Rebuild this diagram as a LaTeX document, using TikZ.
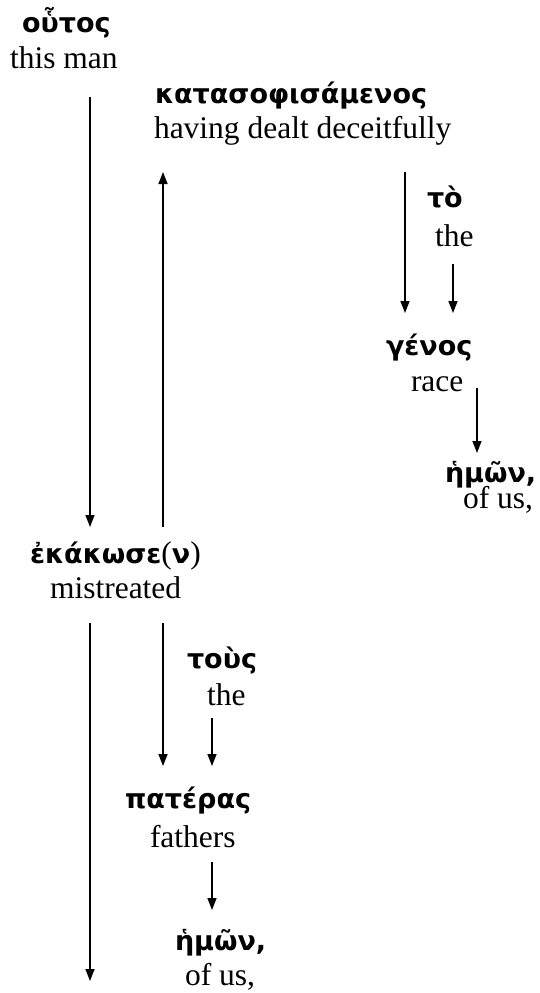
\documentclass[tikz,border=0pt]{standalone}
\usepackage{fontspec}
\setmainfont{Liberation Serif}
\newfontfamily\grk{DejaVu Sans}[Script=Greek]
\usetikzlibrary{arrows.meta}
\tikzset{
  en/.style={anchor=base west, inner sep=0pt, outer sep=0pt, font=\fontsize{31.5}{36}\selectfont},
  gr/.style={anchor=base west, inner sep=0pt, outer sep=0pt, font=\grk\bfseries\fontsize{27}{32}\selectfont},
  arr/.style={line width=1.5pt, -{Stealth[length=12pt,width=9pt,inset=0pt]}},
}
\newcommand{\rmpar}[1]{{\normalfont\fontsize{31.5}{36}\selectfont #1}}
\begin{document}
\begin{tikzpicture}[x=1pt,y=-1pt]
\useasboundingbox (0,0) rectangle (540,993);
\node[gr] (g1) at (22,32) {οὗτος};
\node[en] (e1) at (10,68) {this man};
\node[gr] (g2) at (155,103) {κατασοφισάμενος};
\node[en] (e2) at (154,138) {having dealt deceitfully};
\node[gr] (g3) at (427,207) {τὸ};
\node[en] (e3) at (435,246) {the};
\node[gr] (g4) at (386,355) {γένος};
\node[en] (e4) at (411,391) {race};
\node[gr] (g5) at (445,482) {ἡμῶν,};
\node[en] (e5) at (463,508) {of us,};
\node[gr] (g6) at (30,563) {ἐκάκωσε\rmpar{(}ν\rmpar{)}};
\node[en] (e6) at (50,598) {mistreated};
\node[gr] (g7) at (187,668) {τοὺς};
\node[en] (e7) at (207,705) {the};
\node[gr] (g8) at (125,808) {πατέρας};
\node[en] (e8) at (150,847) {fathers};
\node[gr] (g9) at (175,950) {ἡμῶν,};
\node[en] (e9) at (185,985) {of us,};
\coordinate (a1s) at (90,97);   \coordinate (a1e) at (90,527);
\coordinate (a2s) at (163,527); \coordinate (a2e) at (163,172);
\coordinate (a3s) at (405,172); \coordinate (a3e) at (405,313);
\coordinate (a4s) at (453,264); \coordinate (a4e) at (453,313);
\coordinate (a5s) at (477,388); \coordinate (a5e) at (477,453);
\coordinate (a6s) at (90,623);  \coordinate (a6e) at (90,981);
\coordinate (a7s) at (163,623); \coordinate (a7e) at (163,766);
\coordinate (a8s) at (212,718); \coordinate (a8e) at (212,766);
\coordinate (a9s) at (212,862); \coordinate (a9e) at (212,910);
\draw[arr] (a1s) -- (a1e);
\draw[arr] (a2s) -- (a2e);
\draw[arr] (a3s) -- (a3e);
\draw[arr] (a4s) -- (a4e);
\draw[arr] (a5s) -- (a5e);
\draw[arr] (a6s) -- (a6e);
\draw[arr] (a7s) -- (a7e);
\draw[arr] (a8s) -- (a8e);
\draw[arr] (a9s) -- (a9e);
\end{tikzpicture}
\end{document}
